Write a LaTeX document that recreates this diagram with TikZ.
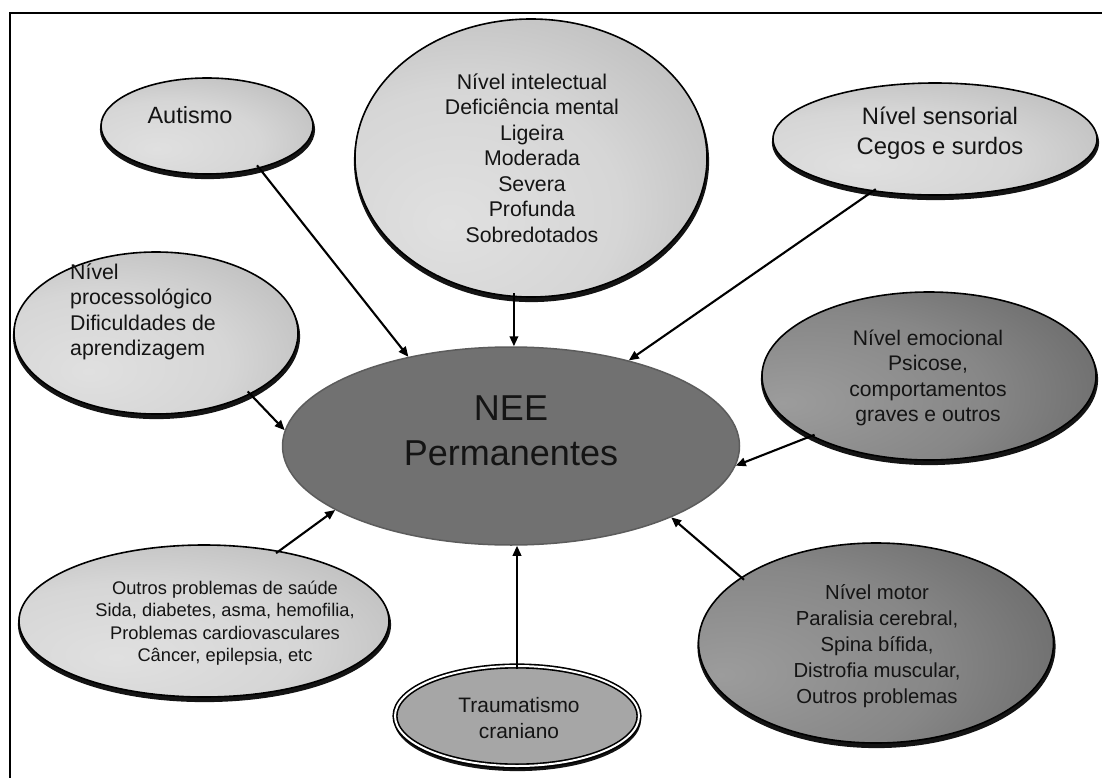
\documentclass[tikz,border=0pt]{standalone}
\usepackage{fontspec}
\setmainfont{Liberation Sans}
\usetikzlibrary{shapes.geometric,arrows.meta}

\definecolor{lightA}{HTML}{E0E0E0}
\definecolor{lightB}{HTML}{D6D6D6}
\definecolor{lightC}{HTML}{9C9C9C}
\definecolor{darkA}{HTML}{9C9C9C}
\definecolor{darkB}{HTML}{878787}
\definecolor{darkC}{HTML}{3A3A3A}
\definecolor{coreFill}{HTML}{717171}
\definecolor{coreLine}{HTML}{5C5C5C}
\definecolor{headFill}{HTML}{A6A6A6}
\definecolor{ink}{HTML}{141414}

\pgfdeclareradialshading{lightball}{\pgfpoint{-12bp}{-12bp}}{%
  color(0bp)=(lightA); color(22bp)=(lightB); color(64bp)=(lightC); color(100bp)=(lightC)}
\pgfdeclareradialshading{darkball}{\pgfpoint{-22bp}{-8bp}}{%
  color(0bp)=(darkA); color(25bp)=(darkB); color(74bp)=(darkC); color(100bp)=(darkC)}

% shaded ellipse with a black shadow below it: style, name, x, y, width, height
\newcommand{\bubblenode}[6]{%
  \fill[black, opacity=0.92] (#3+0.5,#4+3.5) ellipse [x radius={#5pt/2+1.6pt}, y radius={#6pt/2+1.6pt}];
  \node[#1, minimum width=#5pt, minimum height=#6pt] (#2) at (#3,#4) {};}

\begin{document}
\begin{tikzpicture}[x=1pt,y=-1pt,
  bubble/.style={ellipse, draw=black, line width=1.6pt, inner sep=0pt},
  lightbubble/.style={bubble, shading=lightball},
  darkbubble/.style={bubble, shading=darkball},
  headbubble/.style={bubble, fill=headFill, line width=1.6pt, double=white, double distance=2pt},
  lbl/.style={text=ink, inner sep=0pt},
  arr/.style={line width=2.1pt, -{Triangle[length=10pt,width=8.5pt]}, shorten <=-4pt}]

\useasboundingbox (0,0) rectangle (1102,778);

% frame
\draw[line width=2pt] (1102,13) -- (10,13) -- (10,778);

% satellite ellipses
\bubblenode{lightbubble}{aut}{207}{126}{212}{96}
\bubblenode{lightbubble}{int}{531}{158}{352}{278}
\bubblenode{lightbubble}{sen}{935}{139}{324}{112}
\bubblenode{lightbubble}{pro}{156}{333}{284}{162}
\bubblenode{darkbubble}{emo}{929}{376}{334}{168}
\bubblenode{lightbubble}{out}{204}{621}{370}{152}
\bubblenode{darkbubble}{mot}{876}{643}{355}{200}
\bubblenode{headbubble}{tra}{517}{716}{244}{100}

% central ellipse
\node[ellipse, fill=coreFill, draw=coreLine, line width=1.5pt, inner sep=0pt,
      minimum width=457pt, minimum height=198pt] (nee) at (511,446) {};

% texts
\node[lbl, font=\fontsize{23.5}{28}\selectfont] (autT) at (190,115) {Autismo};
\node[lbl, align=center, font=\fontsize{21.3}{25.5}\selectfont] (intT) at (532,158)
  {Nível intelectual\\Deficiência mental\\Ligeira\\Moderada\\Severa\\Profunda\\Sobredotados};
\node[lbl, align=center, font=\fontsize{23.8}{30}\selectfont] (senT) at (940,133)
  {Nível sensorial\\Cegos e surdos};
\node[lbl, align=left, anchor=west, font=\fontsize{21.3}{25.5}\selectfont] (proT) at (70,312)
  {Nível\\processológico\\Dificuldades de\\aprendizagem};
\node[lbl, align=center, font=\fontsize{21.1}{25.5}\selectfont] (emoT) at (928,378)
  {Nível emocional\\Psicose,\\comportamentos\\graves e outros};
\node[lbl, align=center, font=\fontsize{18.3}{22.5}\selectfont] (outT) at (225,623)
  {Outros problemas de saúde\\Sida, diabetes, asma, hemofilia,\\Problemas cardiovasculares\\Câncer, epilepsia, etc};
\node[lbl, align=center, font=\fontsize{20.9}{25.5}\selectfont] (traT) at (519,718)
  {Traumatismo\\craniano};
\node[lbl, align=center, font=\fontsize{20.3}{26}\selectfont] (motT) at (877,646)
  {Nível motor\\Paralisia cerebral,\\Spina bífida,\\Distrofia muscular,\\Outros problemas};
\node[lbl, align=center, font=\fontsize{36}{45}\selectfont] (neeT) at (511,431)
  {NEE\\Permanentes};

% connectors
\draw[arr] (aut.-39) -- (nee.139.5);
\draw[arr] (int.-97.7) -- (int.-97.7 |- nee.north);
\draw[arr] (sen.-140.5) -- (nee.36.8);
\draw[arr] (pro.-33.7) -- (nee.176);
\draw[arr] (emo.-153.4) -- (nee.-5.5);
\draw[arr] (out.43.9) -- (nee.200);
\draw[arr] (tra.north) -- (tra.north |- nee.south);
\draw[arr] (mot.154.3) -- (nee.-24.7);
\end{tikzpicture}
\end{document}
